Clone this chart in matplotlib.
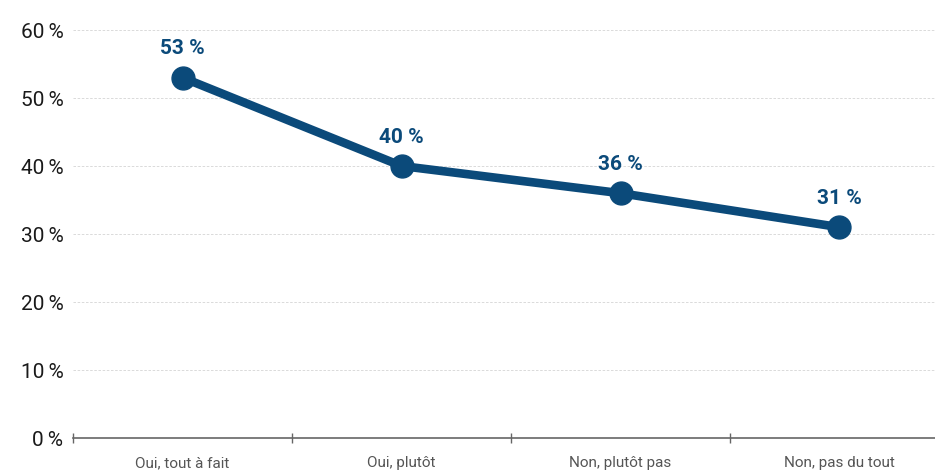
import matplotlib
matplotlib.use("Agg")
import matplotlib.pyplot as plt
from matplotlib.ticker import FuncFormatter

categories = ["Oui, tout à fait", "Oui, plutôt", "Non, plutôt pas", "Non, pas du tout"]
values = [53, 40, 36, 31]
yticks = [0, 10, 20, 30, 40, 50, 60]

plt.rcParams['font.family'] = ['Roboto', 'DejaVu Sans']

blue = '#0b4a7a'

fig = plt.figure(figsize=(9.35, 4.75), dpi=100)
ax = fig.add_axes([73/935, 1 - 438/475, 862/935, 408/475])

x = list(range(len(categories)))
ax.plot(x, values, color=blue, linewidth=6.2, marker='o', markersize=16.5,
        solid_capstyle='round', zorder=3, clip_on=False)

# etiquettes des valeurs au-dessus des points
for xi, v in zip(x, values):
    ax.annotate(f"{v}\u202f%", (xi, v), xytext=(0, 14), textcoords='offset points',
                ha='center', va='bottom', fontsize=15, fontweight='bold', color=blue)

ax.set_ylim(0, 60)
ax.set_xlim(-0.5, -0.5 + 862/219)
ax.set_yticks(yticks)
ax.yaxis.set_major_formatter(FuncFormatter(lambda v, p: f"{int(v)}\u202f%"))
ax.tick_params(axis='y', length=0, labelsize=15, labelcolor='#1a1a1a', pad=7)

ax.set_xticks(x)
ax.set_xticklabels(categories)
ax.set_xticks([-0.5, 0.5, 1.5, 2.5], minor=True)
ax.tick_params(axis='x', which='major', length=0, labelsize=11, labelcolor='#555555', pad=13)
ax.tick_params(axis='x', which='minor', length=7, direction='inout', color='#666666', width=1)

ax.grid(axis='y', color='#d4d4d4', linestyle=(0, (3, 2)), linewidth=0.6)
ax.set_axisbelow(True)
for s in ['top', 'right', 'left']:
    ax.spines[s].set_visible(False)
ax.spines['bottom'].set_color('#666666')
ax.spines['bottom'].set_linewidth(1.2)

fig.savefig("out.png", dpi=100)
